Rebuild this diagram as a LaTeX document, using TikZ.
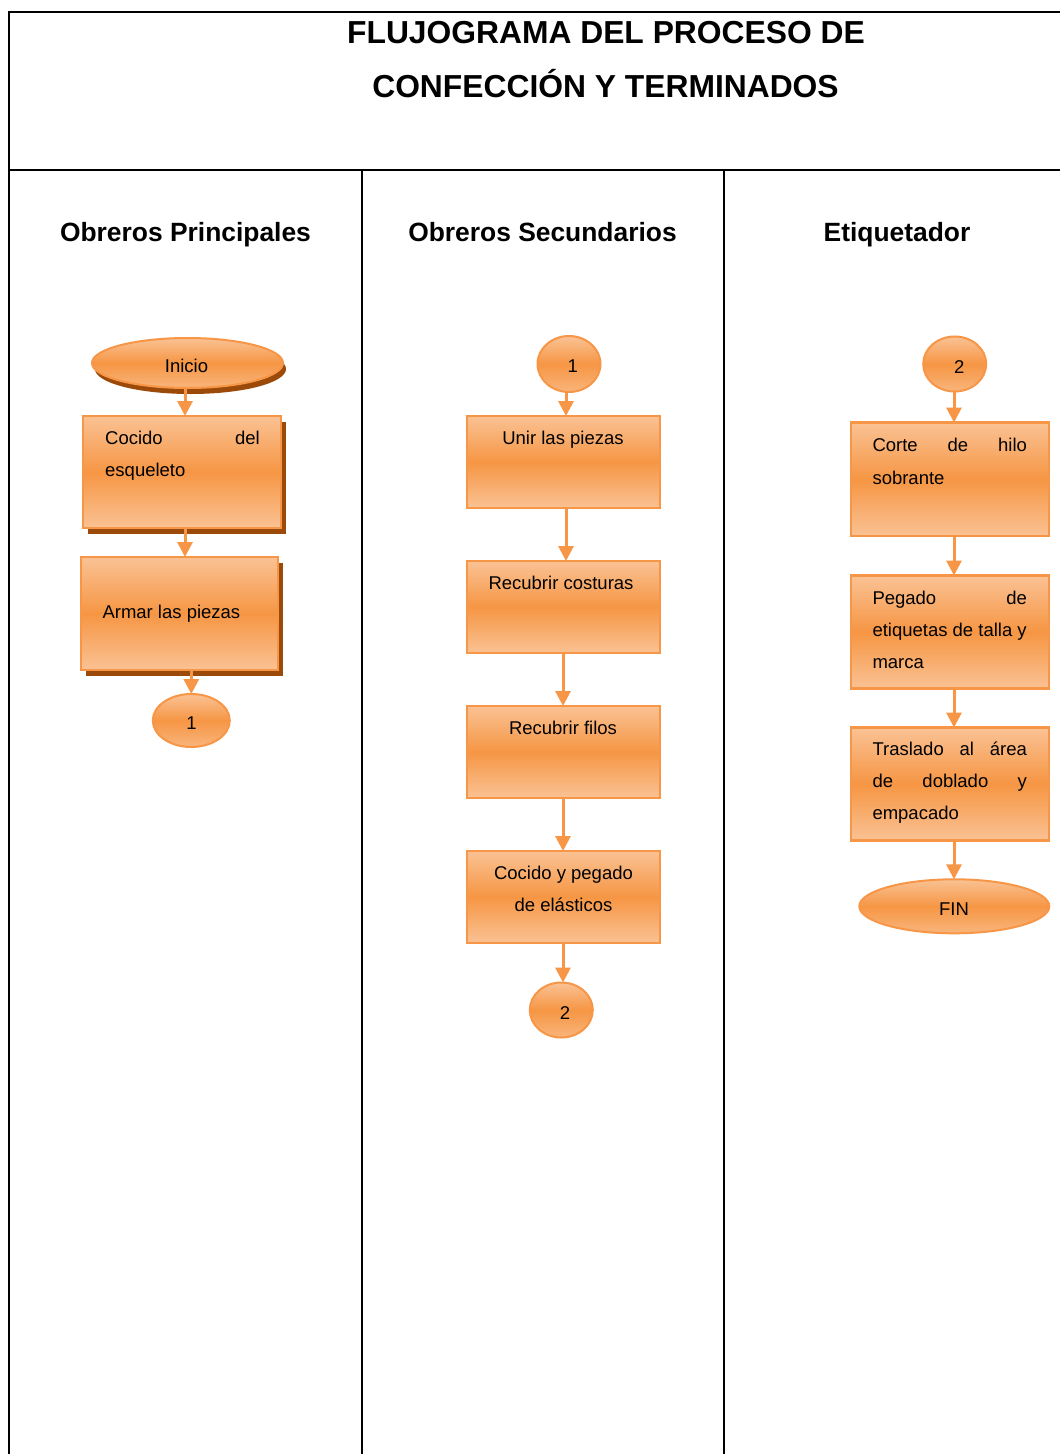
\documentclass[tikz,border=0pt]{standalone}
\usepackage{fontspec}
\setmainfont{Liberation Sans}
\usetikzlibrary{arrows.meta,shapes.geometric,shadows}
\definecolor{orangeA}{RGB}{247,150,70}
\definecolor{orangeL}{RGB}{250,194,148}
\definecolor{orangeM}{RGB}{246,150,68}
\definecolor{shadowC}{RGB}{156,74,10}
\newcommand{\bodyfont}{\fontsize{18.5}{32.3}\selectfont}
\begin{document}
\begin{tikzpicture}[x=1pt,y=-1pt,
  tabline/.style={line width=2pt, black},
  procbox/.style={draw=orangeA, line width=2.2pt, top color=orangeL, bottom color=orangeL, middle color=orangeM, inner sep=0pt, outer sep=0pt},
  termnode/.style={ellipse, draw=orangeA, line width=2pt, top color=orangeL, bottom color=orangeL!70!orangeM, middle color=orangeM, inner sep=0pt, outer sep=0pt},
  shadowed/.style={drop shadow={shadow xshift=#1, shadow yshift=-6pt, fill=shadowC, opacity=1}},
  arr/.style={draw=orangeA, line width=3pt, -{Triangle[width=15pt,length=15pt,fill=orangeA]}},
  titlefont/.style={font=\fontsize{31.8}{38}\selectfont\bfseries, inner sep=0pt, anchor=base},
  headfont/.style={font=\fontsize{26.4}{30}\selectfont\bfseries, inner sep=0pt, anchor=base},
  btxt/.style={font=\bodyfont, inner sep=0pt},
]
\useasboundingbox (0,0) rectangle (1060,1454);
\fill[white] (0,0) rectangle (1060,1454);

% table
\draw[tabline] (9,1454) -- (9,12) -- (1060,12);
\draw[tabline] (9,170) -- (1060,170);
\draw[tabline] (362,170) -- (362,1454);
\draw[tabline] (724,170) -- (724,1454);

% titles
\node[titlefont] (title1) at (606,43.4) {FLUJOGRAMA DEL PROCESO DE};
\node[titlefont] (title2) at (605.5,97.4) {CONFECCIÓN Y TERMINADOS};
\node[headfont] (h1) at (185.5,241.5) {Obreros Principales};
\node[headfont] (h2) at (542.5,241.5) {Obreros Secundarios};
\node[headfont] (h3) at (897,241.5) {Etiquetador};

% column coordinates
\coordinate (xL) at (185,0);
\coordinate (xM) at (566,0);
\coordinate (xMb) at (563,0);
\coordinate (xR) at (954,0);

% left column
\node[termnode, shadowed=3pt, minimum width=191pt, minimum height=50pt] (inicio) at (187.5,363) {};
\node[procbox, shadowed=5pt, minimum width=198pt, minimum height=112pt] (cocido) at (182,472) {};
\node[procbox, shadowed=5pt, minimum width=197pt, minimum height=113pt] (armar) at (179.5,613.5) {};
\node[termnode, minimum width=77pt, minimum height=53pt] (cL) at (191.3,720.5) {};

\node[btxt, anchor=base] (tinicio) at (186.5,372.7) {Inicio};
\node[btxt, anchor=base west] (tcocido) at (105,444) {\parbox[t]{154.5pt}{\bodyfont Cocido\hfill del\\esqueleto}};
\node[btxt, anchor=base west] (tarmar) at (102.3,618) {Armar las piezas};
\node[btxt, anchor=base] (tcL) at (191.5,729) {1};

\draw[arr] (inicio.south -| xL) -- (cocido.north -| xL);
\draw[arr] (cocido.south -| xL) -- (armar.north -| xL);
\draw[arr] (armar.south -| cL) -- (cL.north);

% middle column
\node[termnode, minimum width=63pt, minimum height=56pt] (cM1) at (569,364) {};
\node[procbox, minimum width=193pt, minimum height=92pt] (unir) at (563.5,462) {};
\node[procbox, minimum width=193pt, minimum height=92pt] (costuras) at (563.5,607) {};
\node[procbox, minimum width=193pt, minimum height=92pt] (filos) at (563.5,752) {};
\node[procbox, minimum width=193pt, minimum height=92pt] (elasticos) at (563.5,897) {};
\node[termnode, minimum width=63pt, minimum height=55pt] (cM2) at (561.3,1010) {};

\node[btxt, anchor=base] (tcM1) at (572.7,372.7) {1};
\node[btxt, anchor=base] (tunir) at (563,444) {Unir las piezas};
\node[btxt, anchor=base] (tcost) at (561,589.5) {Recubrir costuras};
\node[btxt, anchor=base] (tfilos) at (563,734.5) {Recubrir filos};
\node[btxt, anchor=base] (telas) at (563.5,879.5) {\parbox[t]{190pt}{\centering\bodyfont Cocido y pegado\\de elásticos}};
\node[btxt, anchor=base] (tcM2) at (565,1019) {2};

\draw[arr] (cM1.south -| xM) -- (unir.north -| xM);
\draw[arr] (unir.south -| xM) -- (costuras.north -| xM);
\draw[arr] (costuras.south -| xMb) -- (filos.north -| xMb);
\draw[arr] (filos.south -| xMb) -- (elasticos.north -| xMb);
\draw[arr] (elasticos.south -| xMb) -- (cM2.north -| xMb);

% right column
\node[termnode, minimum width=63pt, minimum height=55pt] (cR) at (954.7,364) {};
\node[procbox, minimum width=198pt, minimum height=113.5pt] (corte) at (950,479.25) {};
\node[procbox, minimum width=198pt, minimum height=113pt] (pegado) at (950,632) {};
\node[procbox, minimum width=198pt, minimum height=113pt] (traslado) at (950,784) {};
\node[termnode, minimum width=190pt, minimum height=54pt] (fin) at (954.3,906.3) {};

\node[btxt, anchor=base] (tcR) at (959.3,373.3) {2};
\node[btxt, anchor=base west] (tcorte) at (872.3,451.7) {\parbox[t]{154.5pt}{\bodyfont Corte\hfill de\hfill hilo\\sobrante}};
\node[btxt, anchor=base west] (tpegado) at (872.3,604) {\parbox[t]{154.5pt}{\bodyfont Pegado\hfill de\\etiquetas de talla y\\marca}};
\node[btxt, anchor=base west] (ttras) at (872.3,755) {\parbox[t]{154.5pt}{\bodyfont Traslado\hfill al\hfill área\\de\hfill doblado\hfill y\\empacado}};
\node[btxt, anchor=base] (tfin) at (954,915) {FIN};

\draw[arr] (cR.south -| xR) -- (corte.north -| xR);
\draw[arr] (corte.south -| xR) -- (pegado.north -| xR);
\draw[arr] (pegado.south -| xR) -- (traslado.north -| xR);
\draw[arr] (traslado.south -| xR) -- (fin.north -| xR);
\end{tikzpicture}
\end{document}
